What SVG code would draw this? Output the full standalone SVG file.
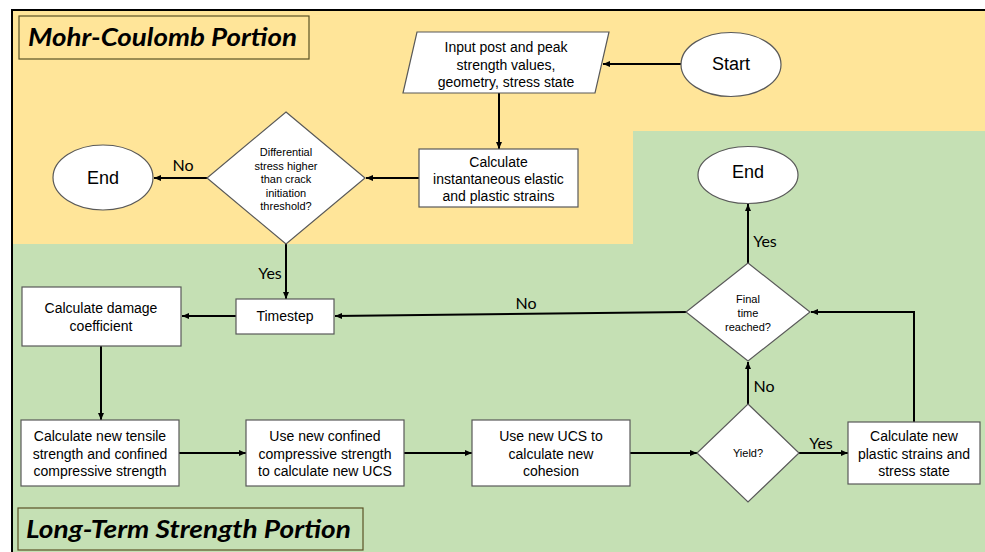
<svg xmlns="http://www.w3.org/2000/svg" width="985" height="552" viewBox="0 0 985 552">
<defs>
<marker id="ah" markerUnits="userSpaceOnUse" markerWidth="8" markerHeight="8" viewBox="0 0 8 8" refX="7" refY="4" orient="auto">
<path d="M0,1 L7,4 L0,7 Z" fill="#000"/>
</marker>
</defs>
<style>
.node{fill:#fff;stroke:#595959;stroke-width:1.2}
.t{font-family:"Liberation Sans",Arial,sans-serif;fill:#000;text-anchor:middle;dominant-baseline:central}
.t14{font-size:14px}
.t11{font-size:11px}
.t18{font-size:18px}
.lbl{font-family:Lato,"Open Sans",sans-serif;font-size:16px;fill:#000;text-anchor:middle;dominant-baseline:central}
.title{font-family:Lato,"Open Sans",sans-serif;font-size:25px;font-weight:bold;font-style:italic;fill:#000}
.tbox{stroke:#5b5226;stroke-width:1.2}
.conn line,.conn polyline{stroke:#000;stroke-width:2;fill:none;marker-end:url(#ah)}
</style>
<rect x="0" y="0" width="985" height="552" fill="#fff"/>
<path d="M12,10 H985 V131 H633 V244 H12 Z" fill="#FFE599"/>
<path d="M12,244 H633 V131 H985 V552 H12 Z" fill="#C5E0B4"/>
<rect x="12" y="10" width="985" height="552" fill="none" stroke="#000" stroke-width="2"/>

<g id="title-mc">
<rect class="tbox" x="19" y="16" width="290" height="43" fill="#FFE599"/>
<text class="title" x="28" y="46" textLength="269" lengthAdjust="spacingAndGlyphs">Mohr-Coulomb Portion</text>
</g>
<g id="title-lt">
<rect class="tbox" x="18" y="508" width="345" height="42" fill="#C5E0B4"/>
<text class="title" x="26" y="538" textLength="325" lengthAdjust="spacingAndGlyphs">Long-Term Strength Portion</text>
</g>

<g class="conn" id="connectors">
<line x1="681" y1="64" x2="603" y2="64"/>
<line x1="499" y1="93" x2="499" y2="149"/>
<line x1="419" y1="178" x2="366" y2="178"/>
<line x1="207" y1="178" x2="154" y2="178"/>
<line x1="286" y1="244" x2="286" y2="299"/>
<line x1="236" y1="316" x2="182" y2="316"/>
<line x1="101" y1="346" x2="101" y2="420"/>
<line x1="179" y1="453" x2="246" y2="453"/>
<line x1="404" y1="453" x2="472" y2="453"/>
<line x1="630" y1="453" x2="697" y2="453"/>
<line x1="799" y1="453" x2="848" y2="453"/>
<polyline points="914,422 914,312 811,312"/>
<line x1="748" y1="404" x2="748" y2="362"/>
<line x1="748" y1="263" x2="748" y2="204"/>
<line x1="687" y1="312" x2="335" y2="316"/>
</g>

<g id="labels">
<text class="lbl" x="183" y="164">No</text>
<text class="lbl" x="270" y="272">Yes</text>
<text class="lbl" x="526" y="302">No</text>
<text class="lbl" x="765" y="240">Yes</text>
<text class="lbl" x="764" y="385">No</text>
<text class="lbl" x="821" y="442">Yes</text>
</g>

<g id="start">
<ellipse class="node" cx="731" cy="64.5" rx="50" ry="32"/>
<text class="t t18" x="731" y="64">Start</text>
</g>
<g id="input">
<polygon class="node" points="417,32 609,32 595,93 403,93"/>
<text class="t t14" x="506" y="47">Input post and peak</text>
<text class="t t14" x="506" y="64.5">strength values,</text>
<text class="t t14" x="506" y="82">geometry, stress state</text>
</g>
<g id="calc-inst">
<rect class="node" x="419" y="149" width="159" height="58"/>
<text class="t t14" x="498.5" y="161.5">Calculate</text>
<text class="t t14" x="498.5" y="178.5">instantaneous elastic</text>
<text class="t t14" x="498.5" y="195.5">and plastic strains</text>
</g>
<g id="diff-stress">
<polygon class="node" points="286,112 365,178 286,244 207,178"/>
<text class="t t11" x="286" y="152">Differential</text>
<text class="t t11" x="286" y="165.5">stress higher</text>
<text class="t t11" x="286" y="179">than crack</text>
<text class="t t11" x="286" y="192.5">initiation</text>
<text class="t t11" x="286" y="206">threshold?</text>
</g>
<g id="end-left">
<ellipse class="node" cx="103" cy="177.5" rx="50" ry="32.5"/>
<text class="t t18" x="103" y="177.5">End</text>
</g>
<g id="end-right">
<ellipse class="node" cx="748" cy="175" rx="50" ry="28.5"/>
<text class="t t18" x="748" y="172">End</text>
</g>
<g id="timestep">
<rect class="node" x="236" y="299" width="98" height="35"/>
<text class="t t14" x="285" y="316">Timestep</text>
</g>
<g id="damage">
<rect class="node" x="22" y="287" width="159" height="59"/>
<text class="t t14" x="101" y="308">Calculate damage</text>
<text class="t t14" x="101" y="325.5">coefficient</text>
</g>
<g id="tensile">
<rect class="node" x="21" y="420" width="158" height="66"/>
<text class="t t14" x="100" y="436">Calculate new tensile</text>
<text class="t t14" x="100" y="453.5">strength and confined</text>
<text class="t t14" x="100" y="471">compressive strength</text>
</g>
<g id="confined">
<rect class="node" x="246" y="420" width="158" height="66"/>
<text class="t t14" x="325" y="436">Use new confined</text>
<text class="t t14" x="325" y="453.5">compressive strength</text>
<text class="t t14" x="325" y="471">to calculate new UCS</text>
</g>
<g id="ucs">
<rect class="node" x="472" y="420" width="158" height="66"/>
<text class="t t14" x="551" y="436">Use new UCS to</text>
<text class="t t14" x="551" y="453.5">calculate new</text>
<text class="t t14" x="551" y="471">cohesion</text>
</g>
<g id="yield">
<polygon class="node" points="748,404 799,453 748,502 697,453"/>
<text class="t t11" x="748" y="453">Yield?</text>
</g>
<g id="plastic">
<rect class="node" x="848" y="422" width="132" height="62"/>
<text class="t t14" x="914" y="436">Calculate new</text>
<text class="t t14" x="914" y="453.5">plastic strains and</text>
<text class="t t14" x="914" y="471">stress state</text>
</g>
<g id="final">
<polygon class="node" points="748,263 810,312 748,361 686,312"/>
<text class="t t11" x="748" y="299">Final</text>
<text class="t t11" x="748" y="313">time</text>
<text class="t t11" x="748" y="326.5">reached?</text>
</g>
</svg>
